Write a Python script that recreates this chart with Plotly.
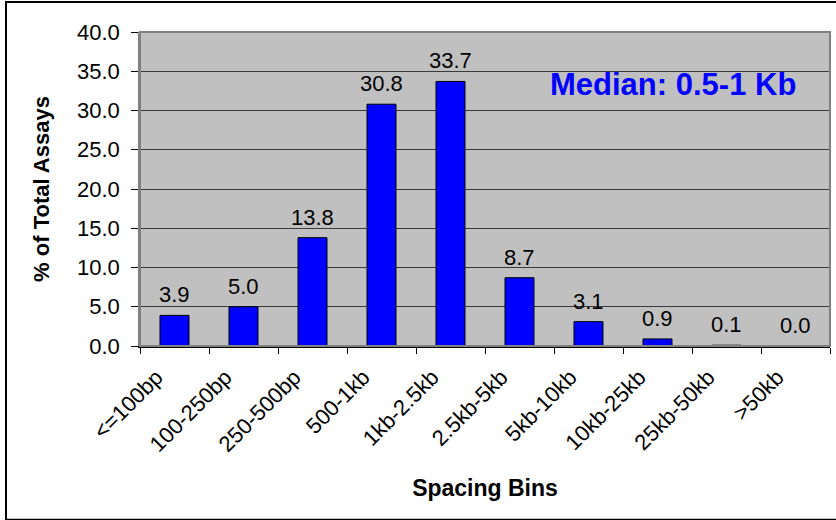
import plotly.graph_objects as go

# Spacing-bin distribution of assays
bins = ["<=100bp", "100-250bp", "250-500bp", "500-1kb", "1kb-2.5kb",
        "2.5kb-5kb", "5kb-10kb", "10kb-25kb", "25kb-50kb", ">50kb"]
pct_assays = [3.9, 5.0, 13.8, 30.8, 33.7, 8.7, 3.1, 0.9, 0.1, 0.0]
y_ticks = [0, 5, 10, 15, 20, 25, 30, 35, 40]
median_note = "Median: 0.5-1 Kb"

FONT = "Liberation Sans, Arial, sans-serif"

fig = go.Figure()
fig.add_trace(go.Bar(
    x=bins,
    y=pct_assays,
    marker=dict(color="#0000FF", line=dict(color="#000000", width=1)),
    hoverinfo="x+y",
))

# value labels above each bar
for b, v in zip(bins, pct_assays):
    fig.add_annotation(
        x=b, y=v, text=f"{v:.1f}", showarrow=False,
        xref="x", yref="y", yanchor="bottom", yshift=6,
        font=dict(family=FONT, size=22, color="#000000"),
    )

fig.add_annotation(
    x=0.9536, y=33.25, xref="paper", yref="y", text=median_note,
    showarrow=False, xanchor="right", yanchor="middle",
    font=dict(family=FONT, size=31, color="#0000FF", weight="bold"),
)

# plot-area frame and outer chart border
fig.add_shape(type="rect", xref="paper", yref="paper", x0=0, x1=1, y0=0, y1=1,
              line=dict(color="#808080", width=2), layer="above")
fig.add_shape(type="rect", xref="paper", yref="paper",
              x0=-0.1942, x1=1.04, y0=-0.553, y1=1.0955,
              line=dict(color="#000000", width=2), layer="above")

fig.update_layout(
    width=836, height=520,
    margin=dict(l=140, r=6, t=32, b=174),
    paper_bgcolor="#FFFFFF",
    plot_bgcolor="#C0C0C0",
    bargap=0.58,
    showlegend=False,
    font=dict(family=FONT, size=22, color="#000000"),
    xaxis=dict(
        type="category",
        tickangle=-45,
        tickson="boundaries",
        ticks="outside", ticklen=6, tickcolor="#000000", tickwidth=1,
        ticklabelshift=-18, ticklabelstandoff=8,
        showline=True, linecolor="#000000", linewidth=1.5,
        showgrid=False,
        tickfont=dict(family=FONT, size=22, color="#000000"),
        title=dict(text="Spacing Bins", standoff=24,
                   font=dict(family=FONT, size=23, color="#000000", weight="bold")),
    ),
    yaxis=dict(
        range=[0, 40],
        tickvals=y_ticks,
        tickformat=".1f",
        ticks="outside", ticklen=7, tickcolor="#000000", tickwidth=1,
        ticklabelstandoff=7,
        showline=True, linecolor="#808080", linewidth=1.5,
        showgrid=True, gridcolor="#3A3A3A", gridwidth=1.2,
        zeroline=False,
        tickfont=dict(family=FONT, size=22, color="#000000"),
        title=dict(text="% of Total Assays", standoff=21,
                   font=dict(family=FONT, size=22, color="#000000", weight="bold")),
    ),
)

fig.write_html("out.html")
